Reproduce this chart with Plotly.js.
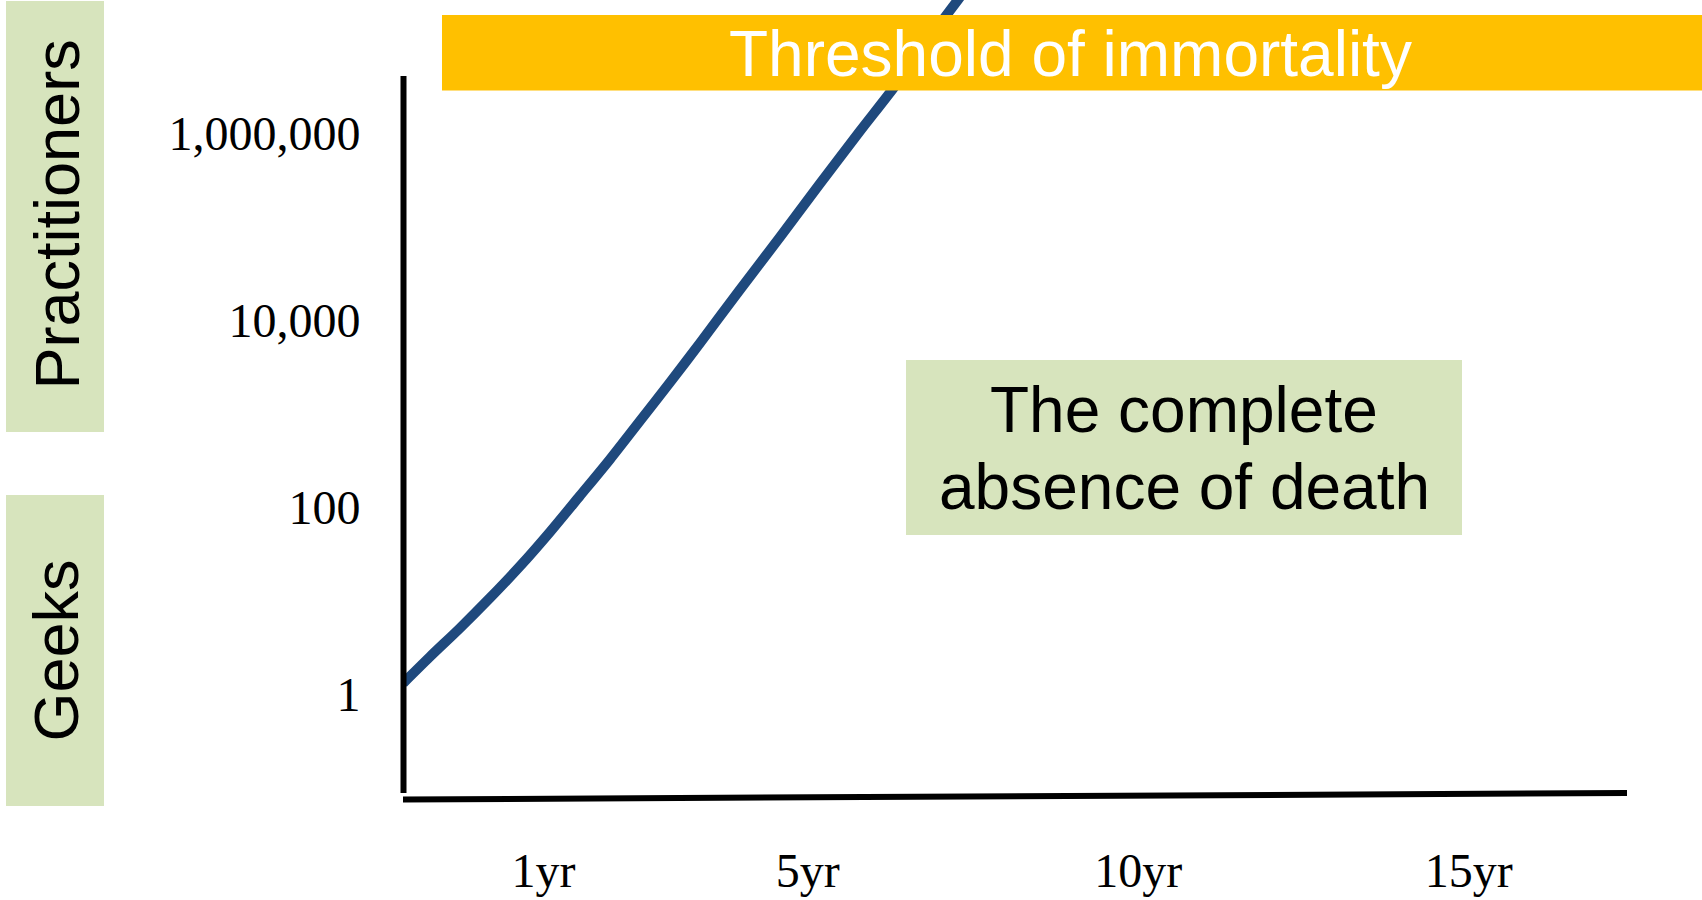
<!DOCTYPE html>
<html>
<head>
<meta charset="utf-8">
<script src="https://cdn.plot.ly/plotly-3.0.1.min.js"></script>
<style>
  html, body { margin: 0; padding: 0; background: #ffffff; }
  #chart { width: 1702px; height: 900px; }
</style>
</head>
<body>
<div id="chart"></div>
<script>
// ---- data ----
const curveYears = [-1.12, -0.72, -0.26, 0.19, 0.65, 1.10, 1.55, 2.01, 2.46, 2.92, 3.37, 3.97, 4.58, 5.18, 5.79, 6.32, 6.85, 7.27, 7.45];
const curvePractitioners = [1.32, 2.51, 5.13, 10.7, 23.6, 54.5, 132, 328, 837, 2185, 5705, 21030, 77500, 285800, 1053000, 3190000, 10650000, 26500000, 39300000];

const yearTicks = [1, 5, 10, 15];
const yearLabels = ['1yr', '5yr', '10yr', '15yr'];
const countTicks = [1, 100, 10000, 1000000];
const countLabels = ['1', '100', '10,000', '1,000,000'];

const bannerText = 'Threshold of immortality';
const boxLines = ['The complete', 'absence of death'];
const sideLabels = ['Practitioners', 'Geeks'];

// ---- layout geometry ----
const W = 1702, H = 900;
const ML = 403, MR = 75, MT = 0, MB = 100;
const PW = W - ML - MR, PH = H - MT - MB;
const px = x => (x - ML) / PW;
const py = y => 1 - (y - MT) / PH;

const SANS = 'Liberation Sans, Arial, sans-serif';
const SERIF = 'Liberation Serif, Times New Roman, serif';
const GREEN = '#D7E4BD';
const YELLOW = '#FFC000';

function rect(x0, y0, x1, y1, color, layer) {
  return { type: 'rect', xref: 'paper', yref: 'paper', x0: px(x0), x1: px(x1), y0: py(y1), y1: py(y0),
           fillcolor: color, line: { width: 0 }, layer: layer };
}
function seg(x0, y0, x1, y1) {
  return { type: 'line', xref: 'paper', yref: 'paper', x0: px(x0), x1: px(x1), y0: py(y0), y1: py(y1),
           line: { color: '#000000', width: 6 }, layer: 'above' };
}
function label(text, x, y, size, color, angle) {
  return { text: text, xref: 'paper', yref: 'paper', x: px(x), y: py(y), xanchor: 'center', yanchor: 'middle',
           showarrow: false, textangle: angle || 0, font: { family: SANS, size: size, color: color } };
}

const trace = {
  x: curveYears,
  y: curvePractitioners,
  type: 'scatter',
  mode: 'lines',
  line: { color: '#1F497D', width: 10, shape: 'spline', smoothing: 0.8 },
  hoverinfo: 'skip'
};

const layout = {
  width: W, height: H,
  margin: { l: ML, r: MR, t: MT, b: MB, pad: 0 },
  paper_bgcolor: '#ffffff', plot_bgcolor: '#ffffff',
  showlegend: false,
  xaxis: {
    type: 'linear', range: [-1.124, 17.393],
    showgrid: false, zeroline: false, showline: false,
    tickmode: 'array', tickvals: yearTicks, ticktext: yearLabels,
    ticks: 'outside', ticklen: 28, tickcolor: 'rgba(0,0,0,0)',
    tickfont: { family: SERIF, size: 48, color: '#000000' }
  },
  yaxis: {
    type: 'log', range: [-1.129, 7.423],
    showgrid: false, zeroline: false, showline: false,
    tickmode: 'array', tickvals: countTicks, ticktext: countLabels,
    ticks: 'outside', ticklen: 32, tickcolor: 'rgba(0,0,0,0)',
    tickfont: { family: SERIF, size: 48, color: '#000000' }
  },
  shapes: [
    rect(6, 1, 104, 432, GREEN, 'below'),
    rect(6, 495, 104, 806, GREEN, 'below'),
    rect(906, 360, 1462, 535, GREEN, 'below'),
    rect(442, 15, 1702, 90.5, YELLOW, 'above'),
    seg(403.5, 76, 403.5, 793),
    seg(403, 799.5, 1627, 793)
  ],
  annotations: [
    label(bannerText, 1070, 54.5, 64, '#ffffff'),
    label(boxLines[0], 1184, 410, 64, '#000000'),
    label(boxLines[1], 1184, 487, 64, '#000000'),
    label(sideLabels[0], 56.5, 215, 63, '#000000', -90),
    label(sideLabels[1], 55.5, 651, 63, '#000000', -90)
  ]
};

Plotly.newPlot('chart', [trace], layout, { staticPlot: true, displayModeBar: false });
</script>
</body>
</html>
